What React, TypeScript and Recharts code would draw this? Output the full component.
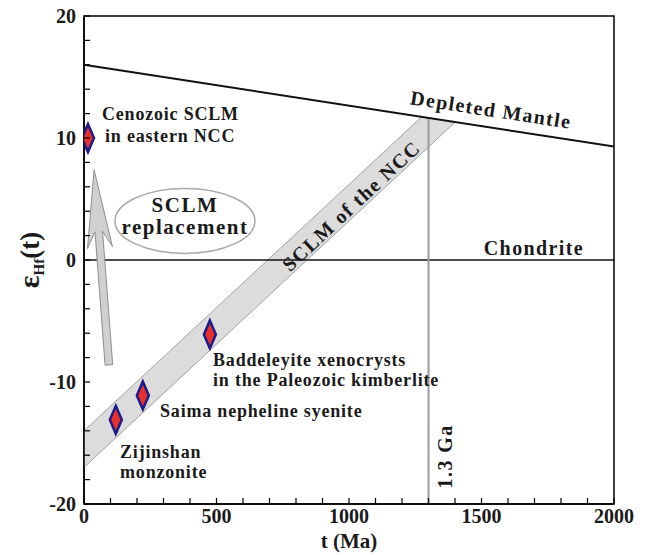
import React from 'react';
import {
  ComposedChart,
  XAxis,
  YAxis,
  Area,
  Scatter,
  ReferenceLine,
  ReferenceDot,
  ReferenceArea,
} from 'recharts';

// axis ticks (minor every 100 Ma / 2 epsilon units, labels on the majors)
const xTicks = [0, 100, 200, 300, 400, 500, 600, 700, 800, 900, 1000, 1100, 1200, 1300, 1400, 1500, 1600, 1700, 1800, 1900, 2000];
const yTicks = [-20, -18, -16, -14, -12, -10, -8, -6, -4, -2, 0, 2, 4, 6, 8, 10, 12, 14, 16, 18, 20];

// reference curves
const depletedMantle = [
  { t: 0, eHf: 16 },
  { t: 2000, eHf: 9.3 },
];
const chondrite = 0;
const ageLine = [
  { t: 1300, eHf: -20 },
  { t: 1300, eHf: 11.64 },
];

// evolution band of the NCC lithospheric mantle, clipped by the DM curve
const sclmBand = [
  { t: 0, low: -17, high: -14 },
  { t: 1274, low: 8.73, high: 11.73 },
  { t: 1401, low: 11.31, high: 11.31 },
];

// samples
const samples = [
  { name: 'Cenozoic SCLM', t: 15, eHf: 10 },
  { name: 'Zijinshan monzonite', t: 120, eHf: -13.1 },
  { name: 'Saima nepheline syenite', t: 222, eHf: -11.1 },
  { name: 'Baddeleyite xenocrysts', t: 475, eHf: -6.1 },
];

// replacement arrow (tail -> tip) and bubble
const replacementArrow = [
  { t: 94, eHf: -8.6 },
  { t: 38, eHf: 7.4 },
];
const replacementBubble = { t: 381, eHf: 3.2, lines: ['SCLM', 'replacement'] };

// text notes
const notes = [
  { t: 68, eHf: 11.48, lines: ['Cenozoic SCLM', 'in eastern NCC'], indent: [0, 3], gap: 22, size: 18, rotate: 0, anchor: 'start' },
  { t: 487, eHf: -8.69, lines: ['Baddeleyite xenocrysts', 'in the Paleozoic kimberlite'], indent: [0, 0], gap: 19.5, size: 18, rotate: 0, anchor: 'start' },
  { t: 287, eHf: -12.87, lines: ['Saima nepheline syenite'], indent: [0], gap: 0, size: 18, rotate: 0, anchor: 'start' },
  { t: 136, eHf: -16.23, lines: ['Zijinshan', 'monzonite'], indent: [0, 0], gap: 20, size: 18, rotate: 0, anchor: 'start' },
  { t: 1532, eHf: 11.76, lines: ['Depleted Mantle'], indent: [0], gap: 0, size: 20, rotate: 8.7, anchor: 'middle' },
  { t: 1698, eHf: 0.41, lines: ['Chondrite'], indent: [0], gap: 0, size: 20, rotate: 0, anchor: 'middle' },
  { t: 1026, eHf: 4.02, lines: ['SCLM of the NCC'], indent: [0], gap: 0, size: 20, rotate: -43, anchor: 'middle' },
  { t: 1389, eHf: -16.1, lines: ['1.3 Ga'], indent: [0], gap: 0, size: 20, rotate: -90, anchor: 'middle' },
];

const FONT = '"Liberation Serif", "Times New Roman", serif';
const INK = '#1a1a1a';

const XTick = (props: any) => {
  const { x, y, payload } = props;
  const v = payload.value;
  return (
    <g>
      <line x1={x} x2={x} y1={y} y2={y - 6} stroke="#000" strokeWidth={1.2} />
      {v % 500 === 0 && (
        <text x={x} y={y + 19} textAnchor="middle" fontFamily={FONT} fontWeight="bold" fontSize={20} fill={INK}>
          {v}
        </text>
      )}
    </g>
  );
};

const YTick = (props: any) => {
  const { x, y, payload } = props;
  const v = payload.value;
  return (
    <g>
      <line x1={x} x2={x + 6} y1={y} y2={y} stroke="#000" strokeWidth={1.2} />
      {v % 10 === 0 && (
        <text x={x - 8} y={y + 7} textAnchor="end" fontFamily={FONT} fontWeight="bold" fontSize={20} fill={INK}>
          {v}
        </text>
      )}
    </g>
  );
};

const Diamond = (props: any) => {
  const { cx, cy } = props;
  const w = 6;
  const h = 14;
  return (
    <polygon
      points={`${cx},${cy - h} ${cx + w},${cy} ${cx},${cy + h} ${cx - w},${cy}`}
      fill="#e8302a"
      stroke="#1b1b8a"
      strokeWidth={2.5}
    />
  );
};

const Arrow = (props: any) => {
  const { x1, y1, x2, y2 } = props;
  const dx = x2 - x1;
  const dy = y2 - y1;
  const len = Math.sqrt(dx * dx + dy * dy) || 1;
  const ux = dx / len;
  const uy = dy / len;
  const nx = -uy;
  const ny = ux;
  const headLen = 78;
  const headHalf = 12.5;
  const notch = 16;
  const shaft = 3.8;
  const pt = (along: number, side: number) =>
    `${x2 - ux * along + nx * side},${y2 - uy * along + ny * side}`;
  const pts = [
    `${x2},${y2}`,
    pt(headLen, headHalf),
    pt(headLen - notch, shaft),
    `${x1 + nx * shaft},${y1 + ny * shaft}`,
    `${x1 - nx * shaft},${y1 - ny * shaft}`,
    pt(headLen - notch, -shaft),
    pt(headLen, -headHalf),
  ];
  return <polygon points={pts.join(' ')} fill="#cfd0cf" stroke="#8e8e8e" strokeWidth={1} />;
};

const Bubble = (props: any) => {
  const { cx, cy } = props;
  return (
    <g>
      <ellipse cx={cx} cy={cy} rx={70} ry={32.5} fill="#fff" stroke="#a8a8a8" strokeWidth={1.5} />
      <text x={cx} y={cy - 9} textAnchor="middle" fontFamily={FONT} fontWeight="bold" fontSize={21} letterSpacing={1.5} fill={INK}>
        {replacementBubble.lines[0]}
      </text>
      <text x={cx} y={cy + 13} textAnchor="middle" fontFamily={FONT} fontWeight="bold" fontSize={21} letterSpacing={1.5} fill={INK}>
        {replacementBubble.lines[1]}
      </text>
    </g>
  );
};

const noteShape = (note: any) => (props: any) => {
  const { cx, cy } = props;
  return (
    <text
      x={cx}
      y={cy}
      textAnchor={note.anchor}
      transform={note.rotate ? `rotate(${note.rotate} ${cx} ${cy})` : undefined}
      fontFamily={FONT}
      fontWeight="bold"
      fontSize={note.size}
      letterSpacing={note.size >= 20 ? 1.4 : 0.8}
      fill={INK}
    >
      {note.lines.map((line: string, i: number) => (
        <tspan key={i} x={cx + note.indent[i]} dy={i === 0 ? 0 : note.gap}>
          {line}
        </tspan>
      ))}
    </text>
  );
};

const XLabel = (props: any) => {
  const { viewBox } = props;
  const { x, y, width } = viewBox;
  return (
    <text x={x + width / 2} y={y + 44} textAnchor="middle" fontFamily={FONT} fontWeight="bold" fontSize={21} fill={INK}>
      t (Ma)
    </text>
  );
};

const YLabel = (props: any) => {
  const { viewBox } = props;
  const cy = viewBox.y + viewBox.height / 2;
  const cx = 39;
  return (
    <text
      x={cx}
      y={cy}
      textAnchor="middle"
      transform={`rotate(-90 ${cx} ${cy})`}
      fontFamily={FONT}
      fontWeight="bold"
      fill={INK}
    >
      <tspan fontSize={30}>ε</tspan>
      <tspan fontSize={15} dy={5}>Hf</tspan>
      <tspan fontSize={27} dy={-5}>(t)</tspan>
    </text>
  );
};

export default function App() {
  return (
    <div style={{ position: 'absolute', left: 0, top: 0, background: '#fff' }}>
      <ComposedChart width={646} height={555} margin={{ top: 16, right: 32, bottom: 0, left: 0 }}>
        <XAxis
          dataKey="t"
          type="number"
          domain={[0, 2000]}
          ticks={xTicks}
          interval={0}
          allowDataOverflow
          height={51}
          tickSize={0}
          tickMargin={0}
          tickLine={false}
          tick={<XTick />}
          axisLine={{ stroke: '#000', strokeWidth: 1.5 }}
          label={{ content: <XLabel /> }}
        />
        <YAxis
          dataKey="eHf"
          type="number"
          domain={[-20, 20]}
          ticks={yTicks}
          interval={0}
          allowDataOverflow
          width={84}
          tickSize={0}
          tickMargin={0}
          tickLine={false}
          tick={<YTick />}
          axisLine={{ stroke: '#000', strokeWidth: 1.5 }}
          label={{ content: <YLabel /> }}
        />
        <ReferenceArea x1={0} x2={2000} y1={-20} y2={20} fill="none" stroke="#000" strokeWidth={1.5} fillOpacity={0} />
        <ReferenceLine y={chondrite} stroke="#111" strokeWidth={1.5} />
        <Area
          data={sclmBand}
          dataKey={(d: any) => [d.low, d.high]}
          type="linear"
          fill="#dcdcdc"
          fillOpacity={1}
          stroke="#a3a3a3"
          strokeWidth={1}
          isAnimationActive={false}
          dot={false}
          activeDot={false}
        />
        <ReferenceLine
          segment={[{ x: ageLine[0].t, y: ageLine[0].eHf }, { x: ageLine[1].t, y: ageLine[1].eHf }]}
          stroke="#9a9a9a"
          strokeWidth={2}
        />
        <ReferenceLine
          segment={[
            { x: depletedMantle[0].t, y: depletedMantle[0].eHf },
            { x: depletedMantle[1].t, y: depletedMantle[1].eHf },
          ]}
          stroke="#111"
          strokeWidth={2}
        />
        <ReferenceLine
          segment={[
            { x: replacementArrow[0].t, y: replacementArrow[0].eHf },
            { x: replacementArrow[1].t, y: replacementArrow[1].eHf },
          ]}
          shape={(p: any) => <Arrow {...p} />}
        />
        <ReferenceDot
          x={replacementBubble.t}
          y={replacementBubble.eHf}
          r={0}
          ifOverflow="visible"
          shape={(p: any) => <Bubble {...p} />}
        />
        {notes.map((note, i) => (
          <ReferenceDot key={i} x={note.t} y={note.eHf} r={0} ifOverflow="visible" shape={noteShape(note)} />
        ))}
        <Scatter data={samples} dataKey="eHf" shape={(p: any) => <Diamond {...p} />} isAnimationActive={false} />
      </ComposedChart>
    </div>
  );
}
